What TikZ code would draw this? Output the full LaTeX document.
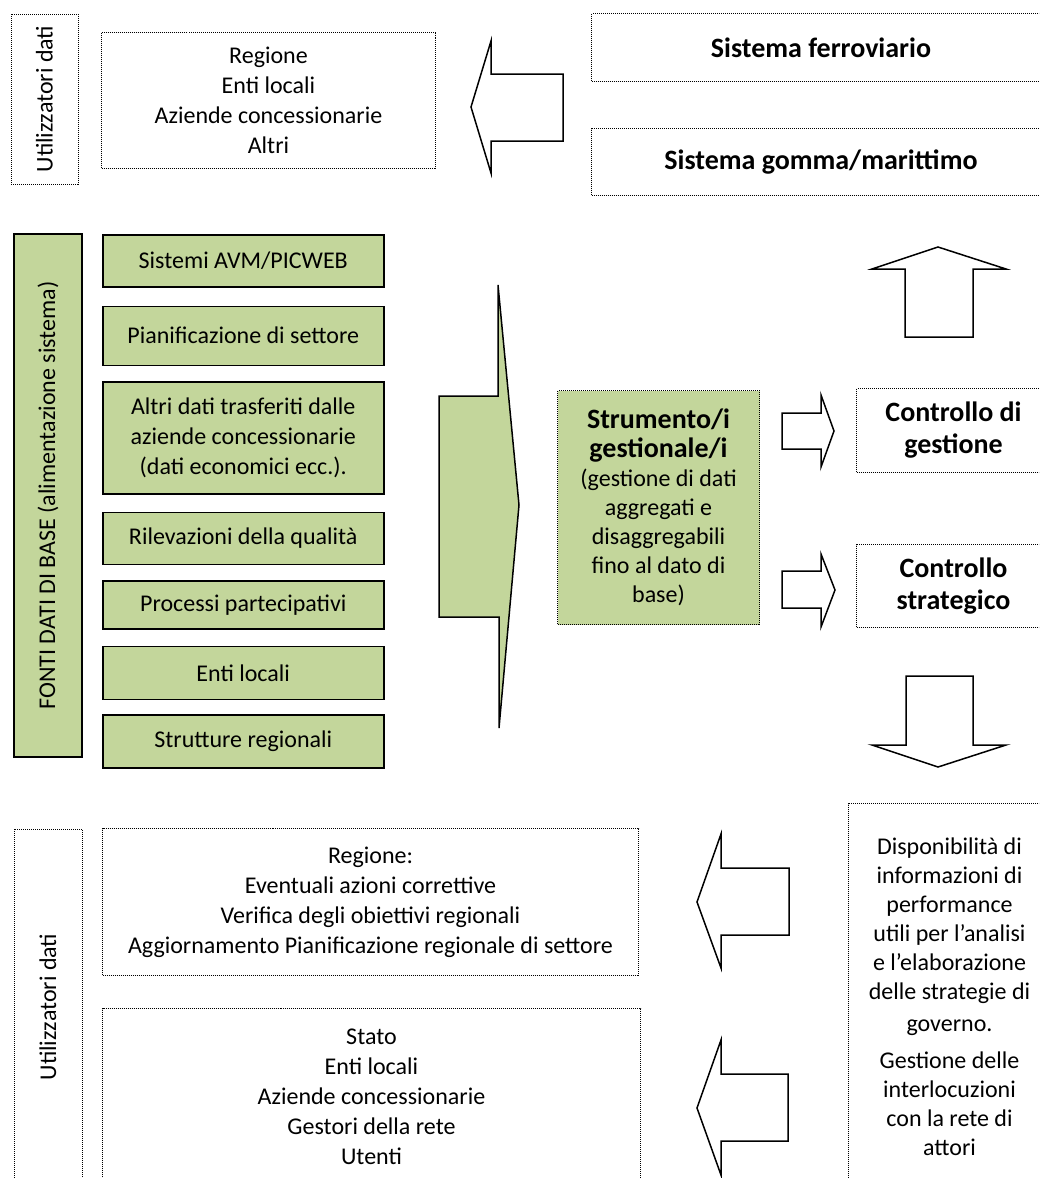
\documentclass[tikz,border=0pt]{standalone}
\usepackage{fontspec}
\setmainfont{Carlito}
\usetikzlibrary{positioning}
\definecolor{ink}{RGB}{0,0,0}
\definecolor{leaf}{RGB}{195,214,155}
\tikzset{
  every picture/.style={x=1pt, y=-1pt, color=ink, line width=1pt},
  node distance=16pt,
  txt/.style={font=\fontsize{24}{30}\selectfont},
  head/.style={font=\fontsize{28}{32}\selectfont\bfseries},
  dotbox/.style={draw=ink, densely dotted, inner sep=0pt, align=center, anchor=north west, txt},
  src/.style={draw=ink, fill=leaf, line width=1.5pt, inner sep=0pt, align=center, minimum width=281pt, txt},
  side/.style={draw=ink, line width=1.5pt, inner sep=0pt, rotate=90, anchor=center, txt},
  block/.style={draw=ink, fill=white, line width=1.5pt, line join=miter},
}

\begin{document}
\begin{tikzpicture}
  \useasboundingbox (0,0) rectangle (1039,1178);
  \clip (0,0) rectangle (1039,1178);

  % users, top
  \node[dotbox, rotate=90, anchor=center, minimum width=170pt, minimum height=67pt] (usersA) at (44.5,99) {Utilizzatori dati};
  \node[dotbox, minimum width=334pt, minimum height=136pt] (usersAlist) at (101,32) {Regione\\ Enti locali\\ Aziende concessionarie\\ Altri};
  \draw[block] (563,74) -- (491,74) -- (491,41) -- (471,107) -- (491,173) -- (491,141) -- (563,141) -- cycle;
  \node[dotbox, head, minimum width=459pt, minimum height=68pt] (rail) at (591,13) {Sistema ferroviario};
  \node[dotbox, head, minimum width=459pt, minimum height=67pt] (road) at (591,128) {Sistema gomma/marittimo};

  % sources
  \node[side, fill=leaf, minimum width=523pt, minimum height=68pt] (sources) at (48,495.5) {FONTI DATI DI BASE (alimentazione sistema)};
  \node[src, minimum height=52pt, anchor=north west] (avm) at (102,234) {Sistemi AVM/PICWEB};
  \node[src, minimum height=59pt, below=18pt of avm] (plan) {Pianificazione di settore};
  \node[src, minimum height=112pt, below=15pt of plan] (other) {Altri dati trasferiti dalle\\ aziende concessionarie\\ (dati economici ecc.).};
  \node[src, minimum height=52pt, below=17pt of other] (quality) {Rilevazioni della qualità};
  \node[src, minimum height=48pt, below=15pt of quality] (partic) {Processi partecipativi};
  \node[src, minimum height=53pt, below=16pt of partic] (local) {Enti locali};
  \node[src, minimum height=53pt, below=14pt of local] (regional) {Strutture regionali};
  \draw[block, fill=leaf] (439,396) -- (498,396) -- (498,285) -- (519,505) -- (499,728) -- (499,617) -- (439,617) -- cycle;

  % tool and controls
  \node[dotbox, fill=leaf, minimum width=202pt, minimum height=234pt, font=\fontsize{24}{29}\selectfont] (tool) at (557,390)
    {{\fontsize{28}{30}\selectfont\bfseries Strumento/i}\\ {\fontsize{28}{31}\selectfont\bfseries gestionale/i}\\ (gestione di dati\\ aggregati e\\ disaggregabili\\ fino al dato di\\ base)};
  \draw[block] (782,413) -- (821,413) -- (821,395) -- (834,431) -- (821,467) -- (821,449) -- (782,449) -- cycle;
  \draw[block] (782,571) -- (821,571) -- (821,554) -- (835,590) -- (821,627) -- (821,608) -- (782,608) -- cycle;
  \node[dotbox, head, minimum width=194pt, minimum height=84pt] (mgmt) at (856,388) {Controllo di\\ gestione};
  \node[dotbox, head, minimum width=194pt, minimum height=83pt] (strat) at (856,544) {Controllo\\ strategico};
  \draw[block] (905,337) -- (905,269) -- (872,269) -- (938,247) -- (1006,269) -- (973,269) -- (973,337) -- cycle;
  \draw[block] (906,676) -- (973,676) -- (973,745) -- (1006,745) -- (938,767) -- (872,745) -- (906,745) -- cycle;

  % users, bottom
  \node[dotbox, rotate=90, anchor=center, minimum width=356pt, minimum height=68pt] (usersB) at (48,1007) {Utilizzatori dati};
  \node[dotbox, minimum width=536pt, minimum height=147pt] (region) at (102,828) {Regione:\\ Eventuali azioni correttive\\ Verifica degli obiettivi regionali\\ Aggiornamento Pianificazione regionale di settore};
  \node[dotbox, minimum width=538pt, minimum height=177pt] (others) at (102,1008) {Stato\\ Enti locali\\ Aziende concessionarie\\ Gestori della rete\\ Utenti};
  \draw[block] (789,868) -- (721,868) -- (721,834) -- (697,902) -- (721,968) -- (721,935) -- (789,935) -- cycle;
  \draw[block] (788,1074) -- (721,1074) -- (721,1040) -- (697,1108) -- (721,1175) -- (721,1141) -- (788,1141) -- cycle;
  \node[dotbox, minimum width=202pt, minimum height=387pt, font=\fontsize{24}{29}\selectfont] (perf) at (848,803)
    {Disponibilità di\\ informazioni di\\ performance\\ utili per l’analisi\\ e l’elaborazione\\ delle strategie di\\[3pt] governo.\\[8pt] Gestione delle\\ interlocuzioni\\ con la rete di\\ attori};
\end{tikzpicture}
\end{document}
